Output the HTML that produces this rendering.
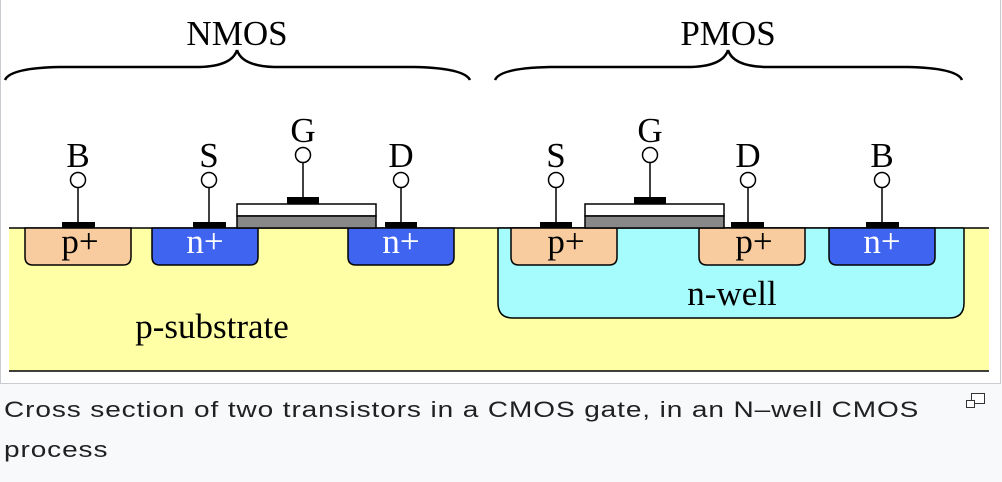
<!DOCTYPE html>
<html><head><meta charset="utf-8"><style>
html,body{margin:0;padding:0;background:#f8f9fa;width:1002px;height:482px;overflow:hidden}
.frame{position:absolute;left:0;top:-2px;width:999px;height:385px;background:#fff;border:1px solid #c8ccd1;border-top:none}
svg{position:absolute;left:0;top:0}
.cap{position:absolute;left:4px;font-family:"Liberation Sans",sans-serif;font-size:28px;line-height:28px;letter-spacing:0.9px;color:#202122;white-space:nowrap;transform:scale(1,0.78);transform-origin:0 0}
.icon{position:absolute;left:971px;top:393px;width:12px;height:9px;border:1.5px solid #333;background:#fff}
.icon2{position:absolute;left:966px;top:400px;width:7px;height:6px;border:1.5px solid #333;background:#fff}
</style></head><body>
<div class="frame"></div>
<svg width="1002" height="384" viewBox="0 0 1002 384" font-family="Liberation Serif, serif">
<rect x="9" y="228" width="980" height="143" fill="#ffffa6"/>
<line x1="9" y1="228" x2="989" y2="228" stroke="#000" stroke-width="1.5"/>
<line x1="9" y1="371" x2="989" y2="371" stroke="#000" stroke-width="1.5"/>
<path d="M498 228 V303 Q498 318 513 318 H949 Q964 318 964 303 V228" fill="#a6fcfc" stroke="#000" stroke-width="1.5"/>
<line x1="498" y1="228" x2="964" y2="228" stroke="#000" stroke-width="1.5"/>
<g stroke="#000" stroke-width="1.5">
<path d="M25 228 V257 Q25 265 33 265 H123 Q131 265 131 257 V228 Z" fill="#f8cc9f"/>
<path d="M152 228 V257 Q152 265 160 265 H250 Q258 265 258 257 V228 Z" fill="#3f65f0"/>
<path d="M348 228 V257 Q348 265 356 265 H446 Q454 265 454 257 V228 Z" fill="#3f65f0"/>
<path d="M511 228 V257 Q511 265 519 265 H609 Q617 265 617 257 V228 Z" fill="#f8cc9f"/>
<path d="M699 228 V257 Q699 265 707 265 H797 Q805 265 805 257 V228 Z" fill="#f8cc9f"/>
<path d="M829 228 V257 Q829 265 837 265 H927 Q935 265 935 257 V228 Z" fill="#3f65f0"/>
<rect x="237" y="204" width="139" height="12" fill="#fff"/>
<rect x="237" y="216" width="139" height="12" fill="#888"/>
<rect x="585" y="204" width="139" height="12" fill="#fff"/>
<rect x="585" y="216" width="139" height="12" fill="#888"/>
<line x1="78" y1="188" x2="78" y2="222"/>
<line x1="209" y1="188" x2="209" y2="222"/>
<line x1="303" y1="163" x2="303" y2="197"/>
<line x1="401" y1="188" x2="401" y2="222"/>
<line x1="556" y1="188" x2="556" y2="222"/>
<line x1="650" y1="163" x2="650" y2="197"/>
<line x1="748" y1="188" x2="748" y2="222"/>
<line x1="882" y1="188" x2="882" y2="222"/>
<g fill="#fff">
<circle cx="78" cy="180" r="7.5"/><circle cx="209" cy="180" r="7.5"/><circle cx="303" cy="155" r="7.5"/><circle cx="401" cy="180" r="7.5"/>
<circle cx="556" cy="180" r="7.5"/><circle cx="650" cy="155" r="7.5"/><circle cx="748" cy="180" r="7.5"/><circle cx="882" cy="180" r="7.5"/>
</g>
</g>
<g fill="#000">
<rect x="62" y="222" width="33" height="6"/><rect x="193" y="222" width="33" height="6"/><rect x="287" y="197" width="32" height="7"/><rect x="385" y="222" width="32" height="6"/>
<rect x="540" y="222" width="32" height="6"/><rect x="634" y="197" width="32" height="7"/><rect x="731" y="222" width="33" height="6"/><rect x="866" y="222" width="33" height="6"/>
</g>
<g fill="none" stroke="#000">
<path d="M5 80 Q10 68 60 67 H200 Q232 66 237 50" stroke-width="2.5"/>
<path d="M237 50 Q242 66 274 67 H414 Q464 68 470 80" stroke-width="2.5"/>
<path d="M495 80 Q500 68 550 67 H691 Q723 66 728 50" stroke-width="2.5"/>
<path d="M728 50 Q733 66 765 67 H907 Q957 68 962 80" stroke-width="2.5"/>
</g>
<g font-size="35" text-anchor="middle" fill="#000">
<text x="237" y="45">NMOS</text>
<text x="728" y="45">PMOS</text>
<text x="78" y="167">B</text><text x="209" y="167">S</text><text x="303" y="142">G</text><text x="401" y="167">D</text>
<text x="556" y="167">S</text><text x="650" y="142">G</text><text x="748" y="167">D</text><text x="882" y="167">B</text>
<text x="80" y="253">p+</text>
<text x="205" y="253" fill="#fff">n+</text>
<text x="401" y="253" fill="#fff">n+</text>
<text x="566" y="253">p+</text>
<text x="754" y="253">p+</text>
<text x="882" y="253" fill="#fff">n+</text>
<text x="212" y="338">p-substrate</text>
<text x="732" y="305">n-well</text>
</g>
</svg>
<div class="cap" style="top:399px">Cross section of two transistors in a CMOS gate, in an N‒well CMOS</div>
<div class="cap" style="top:439px">process</div>
<div class="icon"></div><div class="icon2"></div>
</body></html>
